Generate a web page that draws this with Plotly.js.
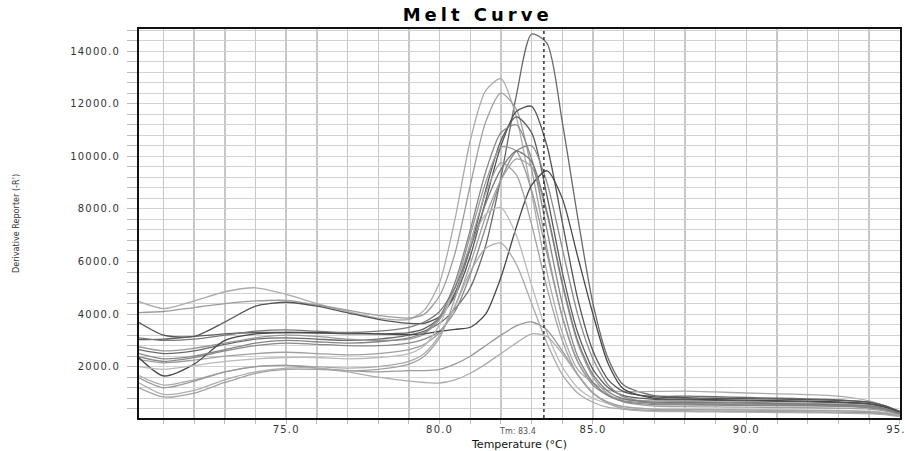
<!DOCTYPE html>
<html>
<head>
<meta charset="utf-8">
<script src="https://cdn.plot.ly/plotly-3.0.1.min.js"></script>
<style>
  html, body { margin: 0; padding: 0; background: #fff; }
  #chart { width: 905px; height: 451px; }
  .xtick text, .ytick text { letter-spacing: 1.2px; }
  .gtitle { letter-spacing: 4px; }
</style>
</head>
<body>
<div id="chart"></div>
<script>
// ---- data ----
const temps = [70.2,71,72,73,74,75,76,77,78,79,79.5,80,80.5,81,81.5,82,82.5,83,83.5,84,84.5,85,85.5,86,87,88,89,90,91,92,93,94,94.5,95];

const wellA = [2650,2500,2600,2850,3050,3100,3050,3000,3050,3200,3350,3650,4200,5000,6600,9200,12300,14650,14300,11300,7700,4400,2300,1300,900,880,860,830,800,780,740,650,520,300];
const wellB = [4480,4210,4500,4850,5000,4750,4400,4100,3850,3800,4150,5200,7600,10600,12500,12950,11500,8600,5600,3300,1900,1400,1100,1050,1060,1070,1040,1000,970,940,880,700,520,280];
const wellC = [4060,4100,4250,4400,4500,4520,4350,4150,3950,3850,4000,4700,6300,8900,11300,12400,11800,9500,6500,3900,2200,1300,900,760,700,680,660,640,620,600,580,520,420,230];
const wellD = [3680,3200,3150,3700,4300,4450,4300,4050,3800,3650,3650,3900,4700,6200,8300,10400,11700,11900,10400,7500,4600,2600,1500,1050,850,820,800,790,770,750,720,650,520,300];
const wellE = [3030,3050,3150,3250,3300,3300,3280,3250,3250,3300,3450,3850,4800,6500,8700,10600,11500,10900,8500,5600,3300,1900,1200,900,760,740,720,700,680,660,640,580,460,260];
const wellF = [2760,2600,2700,2900,3100,3200,3150,3050,3000,3050,3250,3800,5000,7000,9000,10350,10200,8700,6300,3900,2200,1300,900,700,620,600,590,580,570,560,540,490,400,220];
const wellG = [2380,2200,2350,2600,2800,2900,2850,2800,2800,2900,3050,3350,4100,5500,7300,9100,10200,10400,9000,6500,4000,2300,1300,850,600,580,560,550,540,530,510,460,380,200];
const wellH = [2270,2150,2250,2400,2500,2550,2500,2450,2500,2650,2850,3300,4300,5900,7700,9100,9900,9600,7800,5100,2900,1600,950,650,500,480,470,460,450,440,420,390,320,180];
const wellI = [2340,1650,2100,3000,3250,3300,3300,3280,3250,3220,3250,3350,3420,3500,4000,5400,7300,8900,9450,8400,6200,4000,2100,1150,800,770,750,730,710,690,660,600,480,270];
const wellJ = [2000,1900,2050,2200,2300,2350,2350,2300,2350,2500,2800,3600,5000,6600,7800,8050,7000,5100,3300,2000,1200,800,600,480,400,390,380,370,360,350,340,310,260,150];
const wellK = [1660,1300,1500,1800,2000,2050,2000,1950,2000,2200,2500,3200,4300,5600,6500,6700,5900,4400,2900,1700,1000,650,450,380,320,310,300,290,280,270,260,240,200,120];
const wellL = [1580,1200,1450,1800,2000,2050,1950,1850,1800,1850,1850,1900,2100,2400,2800,3200,3550,3700,3400,2600,1700,1000,600,420,330,320,310,300,290,280,270,250,210,130];
const wellM = [1390,950,1100,1500,1800,1950,1950,1800,1600,1450,1400,1380,1500,1750,2100,2500,2900,3250,3150,2500,1700,1000,600,400,300,290,280,270,260,250,240,220,180,110];
const wellN = [2500,2300,2400,2650,2900,3000,2950,2900,2950,3100,3300,3900,5200,7200,9400,10900,11200,9900,7200,4400,2400,1400,900,680,560,550,540,530,520,510,490,440,360,200];
const wellO = [1200,850,1000,1400,1750,1900,1900,1850,1900,2100,2400,3100,4600,6700,8600,9750,9300,7400,5000,3000,1700,1000,650,480,380,370,360,350,340,330,320,290,240,140];
const wellP = [3100,3000,3050,3200,3350,3400,3350,3300,3350,3500,3700,4100,5000,6500,8200,9500,10200,9800,7900,5200,3000,1700,1050,780,650,640,630,620,600,580,560,510,420,240];

const tmValue = 83.4;
const xTickValues = [75, 80, 85, 90, 95];
const xTickLabels = ["75.0", "80.0", "85.0", "90.0", "95.0"];

// ---- styles (kept apart from the data) ----
const wells = [wellA, wellB, wellC, wellD, wellE, wellF, wellG, wellH, wellI, wellJ, wellK, wellL, wellM, wellN, wellO, wellP];
const lineColors = ['#6a6a6a','#ababab','#9c9c9c','#555555','#5c5c5c','#999999','#8a8a8a','#a0a0a0','#484848','#bbbbbb','#aaaaaa','#9a9a9a','#adadad','#858585','#a2a2a2','#7a7a7a'];

const traces = wells.map((w, i) => ({
  x: temps,
  y: w,
  type: 'scatter',
  mode: 'lines',
  line: { color: lineColors[i], width: 1.3, shape: 'spline', smoothing: 0.7 },
  hoverinfo: 'x+y',
  showlegend: false
}));

const gridCol = '#c8c8c8';
const layout = {
  width: 905,
  height: 451,
  paper_bgcolor: '#ffffff',
  plot_bgcolor: '#ffffff',
  margin: { l: 139, r: 5, t: 29, b: 33, autoexpand: false },
  title: {
    text: 'Melt Curve',
    font: { family: 'DejaVu Sans, Arial, sans-serif', size: 18, weight: 'bold', color: '#000' },
    x: 0.445, xref: 'paper', xanchor: 'center',
    y: 1 - 15 / 451, yref: 'container', yanchor: 'middle'
  },
  xaxis: {
    range: [70.2, 95.01],
    tickvals: xTickValues,
    ticktext: xTickLabels,
    ticklabeloverflow: 'allow',
    showgrid: true, gridcolor: gridCol, gridwidth: 1.5,
    ticks: 'outside', ticklen: 4, tickcolor: '#bbbbbb',
    minor: { dtick: 1, tick0: 0, showgrid: true, gridcolor: gridCol, gridwidth: 1.5, ticks: 'outside', ticklen: 4, tickcolor: '#bbbbbb' },
    showline: true, linecolor: '#111', linewidth: 2, mirror: true,
    zeroline: false,
    ticklabelstandoff: -3,
    tickfont: { family: 'DejaVu Sans, sans-serif', size: 10, color: '#333' },
    title: { text: 'Temperature (°C)', font: { family: 'DejaVu Sans, sans-serif', size: 11, color: '#111' }, standoff: 6 }
  },
  yaxis: {
    range: [50, 14840],
    tick0: 0, dtick: 2000, tickformat: '.1f',
    showgrid: true, gridcolor: '#d2d2d2', gridwidth: 1,
    ticks: 'outside', ticklen: 10, tickcolor: '#bbbbbb',
    minor: { dtick: 400, tick0: 0, showgrid: true, gridcolor: '#d2d2d2', gridwidth: 1, ticks: 'outside', ticklen: 10, tickcolor: '#bbbbbb' },
    showline: true, linecolor: '#111', linewidth: 2, mirror: true,
    zeroline: false,
    ticklabelstandoff: 5,
    tickfont: { family: 'DejaVu Sans, sans-serif', size: 10, color: '#333' },
    title: { text: "Derivative Reporter (-R')", font: { family: 'Liberation Sans Narrow, DejaVu Sans Condensed, sans-serif', size: 9, color: '#333' }, standoff: 49 }
  },
  shapes: [{
    type: 'line', xref: 'x', yref: 'paper',
    x0: tmValue, x1: tmValue, y0: 0, y1: 1,
    line: { color: '#333', width: 1.5, dash: 'dot' }
  }],
  annotations: [{
    text: 'Tm: ' + tmValue.toFixed(1),
    xref: 'paper', yref: 'paper',
    x: 0.498, y: -14 / 389, xanchor: 'center', yanchor: 'middle',
    showarrow: false,
    font: { family: 'DejaVu Sans, sans-serif', size: 8, color: '#555' }
  }]
};

Plotly.newPlot('chart', traces, layout, { displayModeBar: false, staticPlot: true });
</script>
</body>
</html>
